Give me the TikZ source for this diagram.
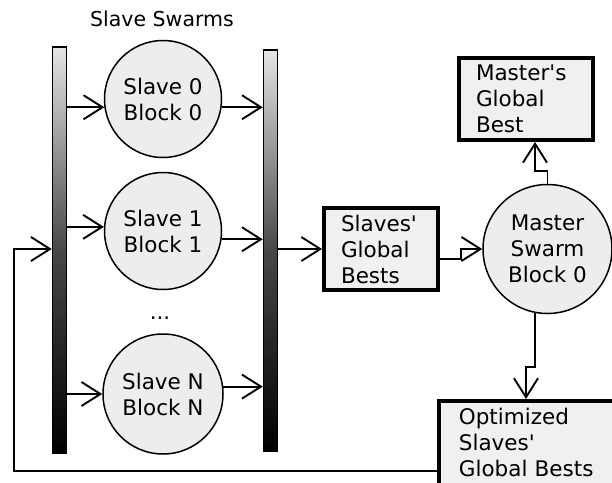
\documentclass[tikz,border=0pt]{standalone}
\usepackage{fontspec}
\setmainfont{DejaVu Sans}
\usetikzlibrary{arrows.meta,positioning}
\newcommand{\swfont}{\fontsize{21.5}{26}\selectfont}
\newcommand{\q}{\textquotesingle}

\tikzset{
  blob/.style={circle, draw, line width=1.5pt, fill=black!7,
    minimum size=117pt, inner sep=0pt, align=center, font=\swfont},
  bestbox/.style={rectangle, draw, line width=3.8pt, fill=black!6,
    inner xsep=17pt, inner ysep=0pt, align=left, font=\swfont},
  bar/.style={rectangle, draw, line width=1.5pt, inner sep=0pt,
    minimum width=14pt, top color=black!10, bottom color=black,
    middle color=black!72},
  >={Straight Barb[length=19pt,width=24pt,line width=1.9pt]}
}

\begin{document}
\begin{tikzpicture}[x=1pt, y=-1pt, line width=1.9pt]
  \useasboundingbox (0,0) rectangle (612,482);
  \clip (0,0) rectangle (612,482);

  \node[font=\fontsize{20.5}{25}\selectfont] (title) at (162,19) {Slave Swarms};

  \node[bar, minimum height=406pt] (lbar) at (59.5,250) {};
  \node[bar, minimum height=401pt] (rbar) at (270.5,250.5) {};

  \node[blob] (s0) at (163,99) {Slave 0\\Block 0};
  \node[blob] (s1) at (163,231) {Slave 1\\Block 1};
  \node[font=\swfont] (dots) at (160,318) {...};
  \node[blob, minimum size=120pt] (sn) at (163,394) {Slave N\\Block N};

  \node[bestbox, minimum width=114pt, minimum height=82pt,
    text width=80pt] (gb) at (381,249) {Slaves\q\\Global\\Bests};
  \node[blob, minimum size=129pt] (master) at (547.5,249)
    {Master\\Swarm\\Block 0};
  \node[bestbox, minimum width=134pt, minimum height=82pt,
    text width=100pt] (best) at (526,99) {Master\q s\\Global\\Best};
  \node[bestbox, anchor=north west, minimum width=190pt,
    minimum height=84pt, text width=150pt] (opt) at (437,399)
    {Optimized\\Slaves\q\\Global Bests};

  \draw[->] (lbar.east |- s0.188) -- (s0.188);
  \draw[->] (lbar.east |- s1.176) -- (s1.176);
  \draw[->] (lbar.east |- sn.180) -- (sn.180);
  \draw[->] (s0.352) -- (s0.352 -| rbar.west);
  \draw[->] (s1.352) -- (s1.352 -| rbar.west);
  \draw[->] (sn.7) -- (sn.7 -| rbar.west);

  \draw[->] (rbar.east |- gb.west) -- (gb.west);
  \draw[->] ([yshift=-10pt]gb.east) -- ++(21,0) |- (master.west);
  \draw[->] (master.north) -- ++(0,-13) -| ([xshift=9pt]best.south);
  \draw[->] (master.259) -- ++(0,54) -| ([xshift=89pt]opt.north west);

  \coordinate (back) at (14,249);
  \draw[->] ([yshift=-28pt]opt.west) -| (back) -- (lbar.west |- back);
\end{tikzpicture}
\end{document}
